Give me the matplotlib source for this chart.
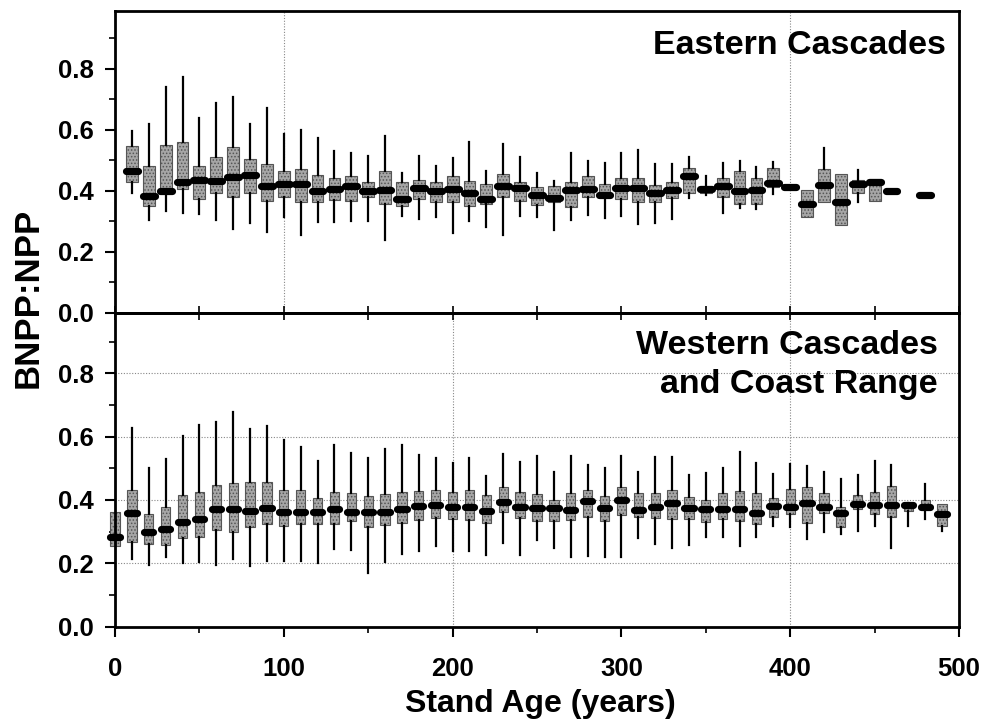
import matplotlib
matplotlib.use('Agg')
import matplotlib.pyplot as plt
from matplotlib.ticker import MultipleLocator, FixedLocator

plt.rcParams['font.family'] = ['Liberation Sans', 'DejaVu Sans']
plt.rcParams['font.weight'] = 'bold'
plt.rcParams['hatch.linewidth'] = 0.7
plt.rcParams['hatch.color'] = '#4a4a4a'

# ---------------- data ----------------
east_age = [10, 20, 30, 40, 50, 60, 70, 80, 90, 100, 110, 120, 130, 140, 150, 160,
            170, 180, 190, 200, 210, 220, 230, 240, 250, 260, 270, 280, 290, 300,
            310, 320, 330, 340, 350, 360, 370, 380, 390, 400, 410, 420, 430, 440,
            450, 460, 480]
east_hi = [0.595, 0.619, 0.742, 0.773, 0.638, 0.690, 0.709, 0.621, 0.671, 0.586, 0.600,
           0.573, 0.532, 0.524, 0.514, 0.581, 0.458, 0.515, 0.483, 0.508, 0.562, 0.466,
           0.553, 0.512, 0.459, 0.434, 0.526, 0.499, 0.491, 0.526, 0.535, 0.488, 0.488,
           0.512, 0.450, 0.491, 0.499, 0.477, 0.496, 0.414, 0.403, 0.542, 0.455, 0.468,
           0.439, 0.401, 0.388]
east_q3 = [0.548, 0.483, 0.551, 0.559, 0.483, 0.513, 0.545, 0.504, 0.490, 0.466, 0.472,
           0.452, 0.442, 0.450, 0.428, 0.466, 0.428, 0.437, 0.430, 0.448, 0.434, 0.423,
           0.455, 0.428, 0.412, 0.417, 0.431, 0.448, 0.423, 0.444, 0.444, 0.419, 0.430,
           0.474, 0.417, 0.444, 0.466, 0.444, 0.474, 0.414, 0.403, 0.472, 0.455, 0.436,
           0.439, 0.401, 0.388]
east_med = [0.464, 0.385, 0.401, 0.428, 0.436, 0.434, 0.447, 0.453, 0.415, 0.423, 0.423,
            0.401, 0.406, 0.417, 0.399, 0.403, 0.374, 0.410, 0.399, 0.406, 0.393, 0.374,
            0.417, 0.410, 0.387, 0.376, 0.404, 0.406, 0.388, 0.410, 0.410, 0.392, 0.404,
            0.450, 0.406, 0.417, 0.399, 0.404, 0.426, 0.414, 0.357, 0.420, 0.365, 0.423,
            0.431, 0.401, 0.388]
east_q1 = [0.428, 0.352, 0.395, 0.406, 0.374, 0.392, 0.381, 0.392, 0.368, 0.379, 0.363,
           0.363, 0.370, 0.368, 0.379, 0.357, 0.352, 0.374, 0.363, 0.363, 0.352, 0.357,
           0.379, 0.368, 0.354, 0.363, 0.346, 0.379, 0.379, 0.374, 0.363, 0.363, 0.377,
           0.395, 0.395, 0.379, 0.357, 0.357, 0.412, 0.414, 0.314, 0.363, 0.290, 0.395,
           0.366, 0.401, 0.388]
east_lo = [0.392, 0.306, 0.336, 0.328, 0.325, 0.306, 0.276, 0.294, 0.267, 0.316, 0.256,
           0.297, 0.297, 0.303, 0.303, 0.240, 0.319, 0.308, 0.314, 0.263, 0.301, 0.281,
           0.257, 0.319, 0.316, 0.272, 0.306, 0.322, 0.312, 0.319, 0.292, 0.294, 0.308,
           0.377, 0.387, 0.328, 0.344, 0.341, 0.390, 0.414, 0.314, 0.363, 0.290, 0.363,
           0.366, 0.401, 0.388]

west_age = list(range(0, 500, 10))
west_hi = [0.363, 0.626, 0.500, 0.528, 0.602, 0.637, 0.647, 0.676, 0.623, 0.632, 0.589,
           0.566, 0.524, 0.574, 0.547, 0.532, 0.560, 0.572, 0.542, 0.532, 0.516, 0.532,
           0.476, 0.544, 0.521, 0.537, 0.489, 0.537, 0.511, 0.502, 0.537, 0.489, 0.534,
           0.534, 0.480, 0.485, 0.501, 0.551, 0.517, 0.482, 0.514, 0.508, 0.489, 0.467,
           0.478, 0.522, 0.509, 0.391, 0.451, 0.386]
west_q3 = [0.363, 0.432, 0.356, 0.376, 0.414, 0.426, 0.447, 0.453, 0.456, 0.456, 0.432,
           0.432, 0.407, 0.424, 0.421, 0.411, 0.420, 0.426, 0.428, 0.432, 0.424, 0.432,
           0.414, 0.442, 0.426, 0.418, 0.400, 0.421, 0.432, 0.411, 0.442, 0.423, 0.423,
           0.432, 0.409, 0.399, 0.421, 0.428, 0.421, 0.407, 0.435, 0.441, 0.423, 0.376,
           0.414, 0.425, 0.444, 0.388, 0.399, 0.386]
west_med = [0.284, 0.358, 0.300, 0.307, 0.329, 0.339, 0.371, 0.371, 0.366, 0.374, 0.363,
            0.363, 0.363, 0.371, 0.363, 0.361, 0.363, 0.371, 0.379, 0.384, 0.376, 0.376,
            0.366, 0.393, 0.376, 0.374, 0.374, 0.368, 0.395, 0.374, 0.400, 0.368, 0.376,
            0.390, 0.373, 0.371, 0.371, 0.371, 0.357, 0.381, 0.378, 0.391, 0.378, 0.357,
            0.386, 0.384, 0.384, 0.383, 0.378, 0.355]
west_q1 = [0.253, 0.266, 0.261, 0.258, 0.281, 0.284, 0.305, 0.297, 0.313, 0.323, 0.318,
           0.323, 0.323, 0.324, 0.332, 0.314, 0.320, 0.326, 0.337, 0.344, 0.340, 0.337,
           0.328, 0.363, 0.342, 0.332, 0.332, 0.337, 0.347, 0.332, 0.353, 0.347, 0.342,
           0.341, 0.339, 0.329, 0.339, 0.334, 0.324, 0.347, 0.355, 0.326, 0.357, 0.313,
           0.371, 0.355, 0.347, 0.365, 0.371, 0.318]
west_lo = [0.253, 0.213, 0.195, 0.219, 0.200, 0.205, 0.195, 0.213, 0.192, 0.207, 0.207,
           0.207, 0.200, 0.244, 0.242, 0.168, 0.205, 0.228, 0.239, 0.255, 0.237, 0.237,
           0.226, 0.263, 0.226, 0.274, 0.247, 0.221, 0.224, 0.221, 0.221, 0.279, 0.260,
           0.248, 0.256, 0.282, 0.282, 0.253, 0.282, 0.318, 0.313, 0.277, 0.297, 0.292,
           0.303, 0.318, 0.248, 0.318, 0.339, 0.303]

y_ticks = [0.0, 0.2, 0.4, 0.6, 0.8]
x_ticks = [0, 100, 200, 300, 400, 500]

# ---------------- figure ----------------
fig = plt.figure(figsize=(9.92, 7.24), dpi=100)
L, W = 115 / 992, 844 / 992
ax1 = fig.add_axes([L, 1 - 313 / 724, W, 302 / 724])
ax2 = fig.add_axes([L, 1 - 626.5 / 724, W, 313.5 / 724])

grid_kw = dict(color='#888888', lw=0.8, ls=(0, (1, 1.5)), zorder=0)


def draw(ax, ages, lo, q1, med, q3, hi, width):
    stats = [dict(whislo=a, q1=b, med=c, q3=d, whishi=e, fliers=[])
             for a, b, c, d, e in zip(lo, q1, med, q3, hi)]
    res = ax.bxp(stats, positions=ages, widths=width, patch_artist=True,
                 showcaps=False, showfliers=False, manage_ticks=False,
                 boxprops=dict(facecolor='#a6a6a6', edgecolor='#555555',
                               hatch='.....', lw=0.8),
                 medianprops=dict(color='black', lw=5.2, solid_capstyle='round'),
                 whiskerprops=dict(color='black', lw=1.6))
    for k in res:
        for art in res[k]:
            art.set_clip_on(False)


draw(ax1, east_age, east_lo, east_q1, east_med, east_q3, east_hi, 7)
draw(ax2, west_age, west_lo, west_q1, west_med, west_q3, west_hi, 5.5)

for x in (100, 400):
    ax1.axvline(x, **grid_kw)
for x in (200, 400):
    ax2.axvline(x, **grid_kw)
for y in (0.2, 0.4, 0.6, 0.8):
    ax2.axhline(y, **grid_kw)

for ax in (ax1, ax2):
    ax.set_xlim(0, 500)
    ax.set_ylim(0, 0.99)
    for s in ax.spines.values():
        s.set_linewidth(2.0)
    ax.yaxis.set_major_locator(FixedLocator(y_ticks))
    ax.yaxis.set_minor_locator(MultipleLocator(0.1))
    ax.set_yticklabels([f'{v:.1f}' for v in y_ticks])
    ax.tick_params(axis='y', which='major', direction='out', length=7, width=1.5,
                   labelsize=18.5, pad=8, right=False)
    ax.tick_params(axis='y', which='minor', direction='out', length=4, width=1.2,
                   right=False)

# top panel x ticks: inward, no labels
ax1.xaxis.set_major_locator(MultipleLocator(50))
ax1.tick_params(axis='x', which='both', direction='in', length=5, width=1.2,
                labelbottom=False, top=False)

# bottom panel x ticks
ax2.xaxis.set_major_locator(FixedLocator(x_ticks))
ax2.xaxis.set_minor_locator(MultipleLocator(50))
ax2.set_xticklabels([str(v) for v in x_ticks])
ax2.tick_params(axis='x', which='major', direction='out', length=7, width=1.5,
                labelsize=18.5, pad=15, top=False)
ax2.tick_params(axis='x', which='minor', direction='out', length=4, width=1.2,
                top=False)
# inward ticks on top of bottom panel
sec = ax2.secondary_xaxis('top')
sec.xaxis.set_major_locator(MultipleLocator(50))
sec.tick_params(direction='in', length=5, width=1.2, labeltop=False)
sec.spines['top'].set_linewidth(2.0)

ax1.text(0.984, 0.885, 'Eastern Cascades', transform=ax1.transAxes,
         ha='right', va='center', fontsize=24.5, fontweight='bold')
ax2.text(0.975, 0.835, 'Western Cascades\nand Coast Range', transform=ax2.transAxes,
         ha='right', va='center', fontsize=24.5, fontweight='bold', linespacing=1.35)

fig.text(0.028, 1 - 298 / 724, 'BNPP:NPP', rotation=90, ha='center', va='center',
         fontsize=25, fontweight='bold')
fig.text(0.545, 1 - 704 / 724, 'Stand Age (years)', ha='center', va='center',
         fontsize=23, fontweight='bold')

fig.savefig('out.png', dpi=100)
